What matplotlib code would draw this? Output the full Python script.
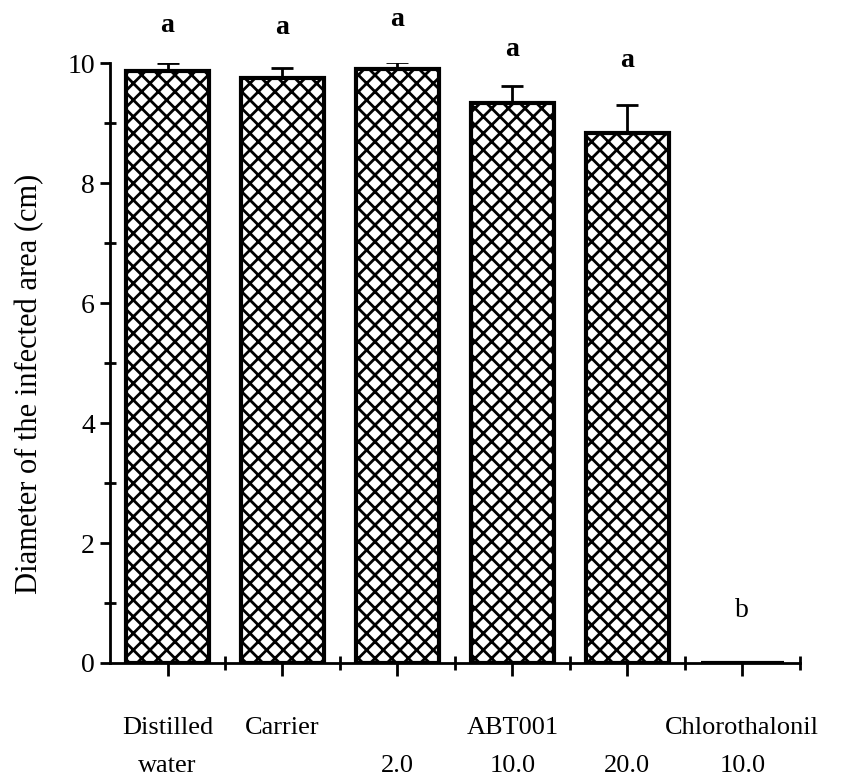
import matplotlib
matplotlib.use("Agg")
import matplotlib.pyplot as plt
from matplotlib.ticker import MultipleLocator, FixedLocator

# data
labels = ["Distilled\nwater", "Carrier\n", "\n2.0", "ABT001\n10.0", "\n20.0", "Chlorothalonil\n10.0"]
means = [9.87, 9.75, 9.90, 9.33, 8.83, 0.0]
errors = [0.13, 0.17, 0.12, 0.29, 0.47, 0.0]
letters = ["a", "a", "a", "a", "a", "b"]
letter_y = [10.63, 10.60, 10.72, 10.22, 10.05, 0.88]

plt.rcParams["font.family"] = ["Liberation Serif", "DejaVu Serif"]
plt.rcParams["hatch.linewidth"] = 2.0

fig = plt.figure(figsize=(8.49, 7.8), dpi=100)
ax = fig.add_axes([0.1296, 0.15, 0.8124, 0.769])

x = list(range(len(means)))
ax.bar(x, means, width=0.72, color="white", edgecolor="black",
       linewidth=3, hatch="xx")
ax.errorbar(x[:5], means[:5], yerr=[[0] * 5, errors[:5]], fmt="none",
            ecolor="black", elinewidth=2, capsize=8, capthick=2)

for xi, t, yy in zip(x, letters, letter_y):
    ax.text(xi, yy, t, ha="center", va="center", fontsize=20,
            fontweight="bold" if t == "a" else "normal", clip_on=False)

ax.set_xlim(-0.5, 5.5)
ax.set_ylim(0, 10)
ax.spines["top"].set_visible(False)
ax.spines["right"].set_visible(False)
ax.spines["left"].set_linewidth(2)
ax.spines["bottom"].set_linewidth(2)

ax.yaxis.set_major_locator(MultipleLocator(2))
ax.yaxis.set_minor_locator(FixedLocator([1, 3, 5, 7, 9]))
ax.tick_params(axis="y", which="major", direction="out", length=7, width=2,
               labelsize=20, pad=4)
ax.tick_params(axis="y", which="minor", direction="inout", length=9, width=2)

ax.set_xticks(x)
ax.set_xticklabels(labels)
ax.xaxis.set_minor_locator(FixedLocator([0.5, 1.5, 2.5, 3.5, 4.5, 5.5]))
ax.tick_params(axis="x", which="major", direction="out", length=9, width=2,
               labelsize=19, pad=30)
ax.tick_params(axis="x", which="minor", direction="inout", length=10, width=2)
for lab in ax.get_xticklabels():
    lab.set_linespacing(1.95)

ax.set_ylabel("Diameter of the infected area (cm)", fontsize=22)
ax.yaxis.set_label_coords(-0.095, 0.465)

fig.savefig("out.png", dpi=100)
